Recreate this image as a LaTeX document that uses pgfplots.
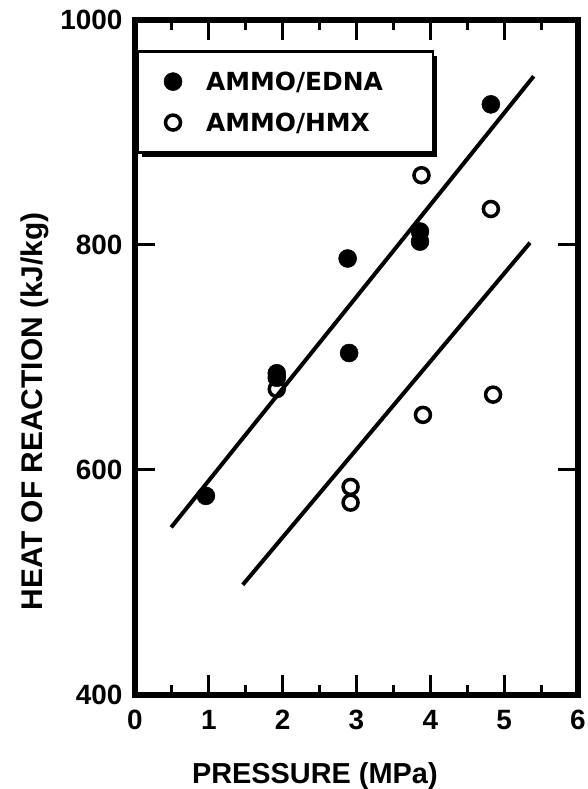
\documentclass[border=0pt]{standalone}
\usepackage{fontspec}
\setmainfont{Liberation Sans}
\newfontfamily\legfont{DejaVu Sans}
\usepackage{pgfplots}
\pgfplotsset{compat=1.18}
\usetikzlibrary{shadows}

\begin{document}
\begin{tikzpicture}
\begin{axis}[
  scale only axis,
  width=443bp, height=675bp,
  xmin=0, xmax=6, ymin=400, ymax=1000,
  xtick={0,1,...,6},
  ytick={400,600,800,1000},
  minor x tick num=1,
  tick align=inside,
  major tick length=20bp,
  minor tick length=10bp,
  major tick style={line width=3bp, black},
  minor tick style={line width=3bp, black},
  axis line style={line width=6bp},
  /pgf/number format/assume math mode=true,
  /pgf/number format/1000 sep={},
  ticklabel style={font=\fontsize{28}{28}\selectfont\bfseries},
  xticklabel style={yshift=-12bp},
  yticklabel style={xshift=-9bp},
  xlabel={PRESSURE (MPa)},
  ylabel={HEAT OF REACTION (kJ/kg)},
  xlabel style={font=\fontsize{29}{29}\selectfont\bfseries,
    at={(axis description cs:0.406,-0.12)}, anchor=center},
  ylabel style={font=\fontsize{30}{30}\selectfont\bfseries,
    at={(axis description cs:-0.226,0.42)}, anchor=center},
  legend cell align=left,
  legend style={at={(axis description cs:0.004,0.955)}, anchor=north west,
    draw=black, line width=2.5bp, fill=white,
    font=\legfont\fontsize{25}{25}\selectfont\bfseries,
    inner xsep=26bp, inner ysep=18bp, row sep=17bp,
    /tikz/every odd column/.append style={column sep=22bp},
    drop shadow={shadow xshift=4bp, shadow yshift=-4bp, fill=black, opacity=1}},
]
% fitted lines
\addplot[line width=4bp, black, forget plot] coordinates {(0.49,549) (5.40,950)};
\addplot[line width=4bp, black, forget plot] coordinates {(1.46,498) (5.35,802)};

% AMMO/EDNA
\addplot[only marks, mark=*, mark size=9bp, mark options={fill=black, draw=black, line width=0.5bp}] coordinates {
  (0.96,577) (1.92,686) (1.92,682) (2.88,788) (2.90,704) (3.86,812) (3.86,803) (4.82,925)
};
\addlegendentry{AMMO/EDNA\hspace*{22bp}}

% AMMO/HMX
\addplot[only marks, mark=o, mark size=7.5bp, mark options={draw=black, fill=white, line width=3.5bp}] coordinates {
  (1.92,672) (2.92,585) (2.92,571) (3.88,862) (3.90,649) (4.82,832) (4.85,667)
};
\addlegendentry{AMMO/HMX}
\end{axis}
\pgfresetboundingbox
\path[use as bounding box] (-135bp,-94bp) rectangle (453bp,695bp);
\end{tikzpicture}
\end{document}
